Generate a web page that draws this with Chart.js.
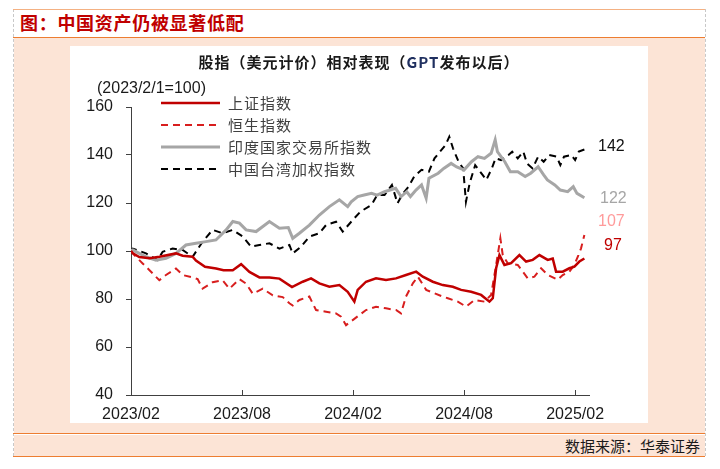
<!DOCTYPE html>
<html>
<head>
<meta charset="utf-8">
<script src="https://cdn.jsdelivr.net/npm/chart.js@4.4.1/dist/chart.umd.min.js"></script>
<style>
  body { margin: 0; width: 720px; height: 469px; position: relative; overflow: hidden; background: #fff; font-family: "Liberation Sans", Arial, sans-serif; }
  .abs { position: absolute; }
  #sideL { left: 13px; top: 9px; height: 447px; border-left: 1px dashed #c8c8c8; }
  #sideR { left: 705px; top: 9px; height: 447px; border-left: 1px dashed #c8c8c8; }
  #topRule { left: 13px; top: 9px; width: 692px; border-top: 1px solid #f4b183; }
  #figTitle { left: 20px; top: 9px; height: 27px; line-height: 27px; font-family: "Noto Sans CJK SC", sans-serif; font-weight: bold; font-size: 18px; letter-spacing: 0.7px; color: #c00000; }
  #titleRule { left: 13px; top: 37px; width: 692px; border-top: 1.5px solid #ed7d31; }
  #bodyBg { left: 14px; top: 38px; width: 691px; height: 395px; background: #fce4d6; }
  #panel { left: 70px; top: 46px; width: 578px; height: 377px; background: #fff; }
  #chartTitle { left: 70px; top: 51px; width: 578px; text-align: center; font-family: "Noto Sans CJK SC", sans-serif; font-weight: bold; font-size: 15px; letter-spacing: 1px; color: #1a1a1a; }
  #chartTitle span { color: #1f2f5f; }
  #baseNote { left: 97px; top: 79px; font-size: 16px; color: #1a1a1a; }
  #footRule1 { left: 13px; top: 433px; width: 692px; border-top: 1.5px solid #ed7d31; }
  #footBg { left: 14px; top: 435px; width: 691px; height: 21px; background: #fce4d6; }
  #source { right: 20px; top: 435px; font-family: "Noto Sans CJK SC", sans-serif; font-size: 15px; color: #1a1a1a; }
  #footRule2 { left: 13px; top: 456px; width: 692px; border-top: 1.5px solid #ed7d31; }
  #chartBox { left: 70px; top: 46px; width: 578px; height: 377px; }
</style>
</head>
<body>
<div class="abs" id="bodyBg"></div>
<div class="abs" id="footBg"></div>
<div class="abs" id="sideL"></div>
<div class="abs" id="sideR"></div>
<div class="abs" id="topRule"></div>
<div class="abs" id="figTitle">图：中国资产仍被显著低配</div>
<div class="abs" id="titleRule"></div>
<div class="abs" id="panel"></div>
<div class="abs" id="chartBox"><canvas id="chart" width="578" height="377"></canvas></div>
<div class="abs" id="chartTitle">股指（美元计价）相对表现（<span>GPT</span>发布以后）</div>
<div class="abs" id="baseNote">(2023/2/1=100)</div>
<div class="abs" id="footRule1"></div>
<div class="abs" id="source">数据来源：华泰证券</div>
<div class="abs" id="footRule2"></div>

<script>
// x values are months since 2023/02/01, one array per series
const seriesNames = ["上证指数", "恒生指数", "印度国家交易所指数", "中国台湾加权指数"];

const shMonths = [
  0, 0.1, 0.45, 1, 1.53, 2.43, 2.79, 3.33, 3.51, 4,
  4.6, 5, 5.5, 5.95, 6.4, 6.94, 7.48, 8.02, 8.7, 9.28,
  9.73, 10.18, 10.72, 11.26, 11.71, 12.07, 12.25, 12.7, 13.24, 13.78,
  14.32, 14.86, 15.41, 15.77, 16.31, 16.85, 17.39, 17.84, 18.38, 18.92,
  19.37, 19.55, 19.73, 19.91, 20.18, 20.54, 20.99, 21.35, 21.71, 22.07,
  22.52, 22.79, 22.97, 23.33, 23.69, 23.96, 24.23, 24.5
];
const shanghai = [
  100, 99, 97.5, 97, 97.6, 99, 98, 97.6, 96, 93.4,
  92.7, 92, 92, 94.5, 91.3, 89, 89, 88.5, 85, 87.2,
  88.6, 86.5, 85.1, 85.8, 83, 78.9, 83.8, 87.2, 88.6, 87.9,
  88.6, 90, 91.4, 89.3, 87.2, 85.8, 85.1, 83.8, 83, 81.7,
  78.9, 80.3, 92.8, 98.3, 94.2, 94.9, 98.3, 95.6, 96.3, 98.3,
  96.3, 96.9, 91.4, 91.4, 92.8, 93.5, 95.6, 96.9
];

const hsMonths = [
  0, 0.18, 0.63, 1, 1.53, 1.89, 2.43, 2.79, 3.33, 3.6,
  3.87, 4.41, 4.95, 5.32, 5.86, 6.22, 6.58, 7.12, 7.66, 8.2,
  8.56, 8.74, 9.1, 9.64, 10, 10.54, 11.08, 11.35, 11.62, 11.98,
  12.34, 12.7, 13.24, 13.78, 14.32, 14.59, 14.86, 15.23, 15.5, 15.95,
  16.4, 16.85, 17.12, 17.66, 18.11, 18.56, 19.1, 19.46, 19.73, 19.96,
  20.09, 20.36, 20.9, 21.17, 21.44, 21.8, 22.16, 22.52, 23.06, 23.33,
  23.69, 23.96, 24.18, 24.32, 24.5
];
const hangSeng = [
  100, 98.3, 94.8, 92, 87.8, 90, 92.7, 90, 89, 88.3,
  84.3, 87, 87.8, 84.3, 88.3, 86.4, 82.2, 84.3, 81.5, 80.8,
  78.2, 77.3, 79.6, 81, 75.4, 74.7, 74, 72.6, 69.1, 71.2,
  73.3, 75.4, 76.8, 76.1, 75.4, 74, 81, 86.5, 89.3, 83.8,
  82.4, 81, 80.3, 78.9, 76.8, 79.6, 78.9, 81.7, 94.2, 105.3,
  98.3, 94.9, 94.2, 91.4, 88.6, 89.3, 92.8, 90, 88, 90,
  91.4, 94.2, 98.3, 101.1, 106.7
];

const inMonths = [
  0, 0.1, 0.81, 1.35, 1.89, 2.43, 2.97, 3.51, 4.05, 4.59,
  5.14, 5.5, 5.86, 6.22, 6.76, 7.48, 8.02, 8.5, 8.74, 9.1,
  9.64, 10.18, 10.72, 11.26, 11.71, 11.9, 12.25, 12.6, 13, 13.3,
  13.7, 14, 14.3, 14.6, 14.9, 15.1, 15.4, 15.7, 15.95, 16.1,
  16.6, 16.9, 17.3, 17.6, 18, 18.4, 18.75, 19.1, 19.46, 19.68,
  19.8, 20.2, 20.5, 20.9, 21.3, 21.6, 22, 22.3, 22.5, 22.9,
  23.2, 23.6, 23.9, 24.1, 24.5
];
const india = [
  100, 100.4, 97.6, 96.2, 97, 99, 102.5, 103.2, 103.9, 104.6,
  108.8, 112.3, 111.6, 108.8, 108.1, 112.3, 109.5, 109.8, 105.3, 107.4,
  110.8, 115, 118.5, 121.3, 118.5, 120.5, 122.7, 123.3, 124, 123.3,
  124.7, 125.4, 126.1, 122.7, 124.7, 122.7, 125.4, 127.5, 122, 130.3,
  132.4, 134.4, 136.5, 135, 133.8, 137.2, 139.3, 138.6, 140.7, 146.3,
  141.4, 137.2, 133, 133, 131, 132.4, 135.1, 131.7, 129.6, 127.5,
  125.4, 124.7, 126.8, 124, 122.2
];

const twMonths = [
  0, 0.1, 0.81, 1.44, 1.71, 2.25, 2.79, 3.33, 3.87, 4.41,
  4.95, 5.5, 6.04, 6.49, 6.94, 7.48, 8.02, 8.56, 8.74, 9.19,
  9.64, 10.18, 10.54, 11.08, 11.44, 11.98, 12.4, 13, 13.3, 13.7,
  14.1, 14.4, 14.7, 15, 15.3, 15.7, 16.1, 16.4, 16.7, 17,
  17.2, 17.4, 17.7, 17.95, 18.1, 18.3, 18.6, 19, 19.2, 19.5,
  19.7, 20, 20.4, 20.6, 20.9, 21.2, 21.4, 21.7, 22, 22.3,
  22.6, 23, 23.2, 23.4, 23.8, 24, 24.2, 24.5
];
const taiwan = [
  100, 101, 99, 96.2, 99.7, 101, 100.4, 97.6, 103.9, 108.8,
  107.4, 108.8, 106, 101.8, 102.5, 103.2, 101, 102.5, 99, 101.8,
  106, 107.4, 110.8, 112.2, 108.1, 112.9, 116.4, 119.2, 123.3, 123.3,
  127.5, 119.9, 124, 126.8, 131, 133.8, 133.1, 138.6, 141.4, 144.2,
  147.6, 142.8, 137.2, 134.4, 120.5, 128.2, 135.8, 131.7, 129.6, 134.4,
  138.6, 137.9, 140, 141.4, 138.6, 141.4, 136.5, 134.4, 139.3, 137.2,
  140, 139.3, 135.8, 139.3, 140, 137.9, 141.4, 142.3
];

const xTickValues = [0, 6, 12, 18, 24];
const xTickLabels = ["2023/02", "2023/08", "2024/02", "2024/08", "2025/02"];

const axisColor = "#404040";
const tickFont = { family: '"Liberation Sans", Arial, sans-serif', size: 16 };

function toPoints(xs, values) {
  return xs.map((m, i) => ({ x: m, y: values[i] }));
}

// inward x ticks, legend rows and end-of-line labels
const overlay = {
  id: "overlay",
  afterDraw(chart) {
    const ctx = chart.ctx;
    const area = chart.chartArea;
    const xs = chart.scales.x;
    ctx.save();

    ctx.strokeStyle = axisColor;
    ctx.lineWidth = 1;
    xTickValues.forEach((v) => {
      const px = Math.round(xs.getPixelForValue(v)) + 0.5;
      ctx.beginPath();
      ctx.moveTo(px, area.bottom);
      ctx.lineTo(px, area.bottom - 5);
      ctx.stroke();
    });

    ctx.font = '15px "Noto Sans CJK SC", sans-serif';
    ctx.letterSpacing = "1px";
    ctx.textBaseline = "middle";
    chart.data.datasets.forEach((ds, i) => {
      const ly = 57 + i * 22;
      ctx.strokeStyle = ds.borderColor;
      ctx.lineWidth = ds.borderWidth;
      ctx.setLineDash(ds.borderDash || []);
      ctx.beginPath();
      ctx.moveTo(91, ly);
      ctx.lineTo(150, ly);
      ctx.stroke();
      ctx.setLineDash([]);
      ctx.fillStyle = "#404040";
      ctx.fillText(ds.label, 158, ly);
    });

    const ends = [
      { values: taiwan, color: "#111", x: 528, y: 101 },
      { values: india, color: "#a6a6a6", x: 530, y: 153 },
      { values: hangSeng, color: "#ff9b9b", x: 528, y: 176 },
      { values: shanghai, color: "#c00000", x: 534, y: 200 },
    ];
    ctx.letterSpacing = "0px";
    ctx.font = '16px "Liberation Sans", Arial, sans-serif';
    ends.forEach((e) => {
      ctx.fillStyle = e.color;
      ctx.fillText(String(Math.round(e.values[e.values.length - 1])), e.x, e.y);
    });
    ctx.restore();
  },
};

const ctx = document.getElementById("chart").getContext("2d");
new Chart(ctx, {
  type: "line",
  data: {
    datasets: [
      {
        label: seriesNames[0],
        data: toPoints(shMonths, shanghai),
        borderColor: "#c00000",
        borderWidth: 2.5,
      },
      {
        label: seriesNames[1],
        data: toPoints(hsMonths, hangSeng),
        borderColor: "#d81e1e",
        borderWidth: 2,
        borderDash: [7, 5],
      },
      {
        label: seriesNames[2],
        data: toPoints(inMonths, india),
        borderColor: "#a6a6a6",
        borderWidth: 3,
      },
      {
        label: seriesNames[3],
        data: toPoints(twMonths, taiwan),
        borderColor: "#000",
        borderWidth: 2,
        borderDash: [7, 5],
      },
    ],
  },
  options: {
    responsive: false,
    animation: false,
    elements: { point: { radius: 0 }, line: { tension: 0 } },
    layout: { padding: { top: 61, right: 59, bottom: 0, left: 0 } },
    plugins: { legend: { display: false }, tooltip: { enabled: false } },
    scales: {
      x: {
        type: "linear",
        min: 0,
        max: 24.75,
        afterBuildTicks: (scale) => {
          scale.ticks = xTickValues.map((v) => ({ value: v }));
        },
        afterFit: (scale) => {
          scale.height = 28;
        },
        grid: { display: false, drawTicks: false },
        border: { display: true, color: axisColor, width: 1 },
        ticks: {
          autoSkip: false,
          maxRotation: 0,
          padding: 10,
          color: "#1a1a1a",
          font: tickFont,
          callback: (value, index) => xTickLabels[index],
        },
      },
      y: {
        min: 40,
        max: 160,
        afterFit: (scale) => {
          scale.width = 61;
        },
        grid: {
          drawOnChartArea: false,
          drawTicks: true,
          tickLength: 5,
          color: axisColor,
        },
        border: { display: true, color: axisColor, width: 1 },
        ticks: {
          stepSize: 20,
          padding: 13,
          color: "#1a1a1a",
          font: tickFont,
        },
      },
    },
  },
  plugins: [overlay],
});
</script>
</body>
</html>
